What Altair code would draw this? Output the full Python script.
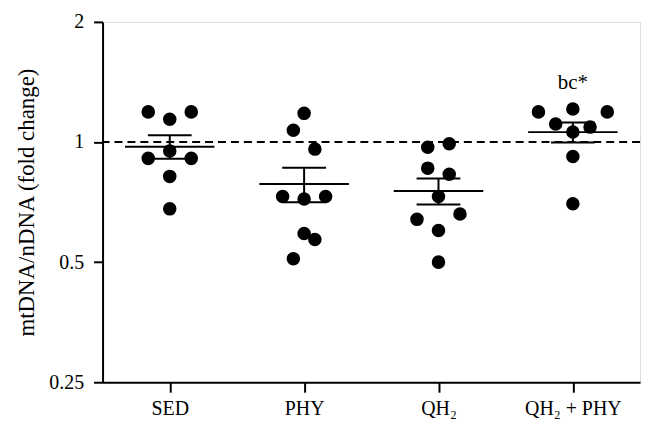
import altair as alt
import pandas as pd

groups = ["SED", "PHY", "QH₂", "QH₂ + PHY"]

sed_values = [1.19, 1.14, 1.19, 0.95, 0.91, 0.91, 0.82, 0.68]
sed_slots = [-1, 0, 1, 0, -1, 1, 0, 0]
phy_values = [1.18, 1.07, 0.96, 0.73, 0.72, 0.73, 0.59, 0.57, 0.51]
phy_slots = [0, -0.5, 0.5, -1, 0, 1, 0, 0.5, -0.5]
qh2_values = [0.97, 0.99, 0.86, 0.83, 0.73, 0.64, 0.66, 0.60, 0.50]
qh2_slots = [-0.5, 0.5, -0.5, 0.5, 0, -1, 1, 0, 0]
qp_values = [1.19, 1.21, 1.19, 1.11, 1.09, 1.06, 0.92, 0.70]
qp_slots = [-1.6, 0, 1.6, -0.8, 0.8, 0, 0, 0]

y_ticks = [0.25, 0.5, 1, 2]
reference_level = 1
annotation = "bc*"
annotation_group = 3
annotation_level = 1.36

rows = []
for gi, (vals, slots) in enumerate(
    [(sed_values, sed_slots), (phy_values, phy_slots),
     (qh2_values, qh2_slots), (qp_values, qp_slots)]
):
    for v, s in zip(vals, slots):
        rows.append({"group": groups[gi], "idx": gi + 0.5, "slot": s, "value": v})
df = pd.DataFrame(rows)

label_expr = " : ".join(
    [f"datum.value < {i + 1} ? '{g}'" for i, g in enumerate(groups[:-1])]
) + f" : '{groups[-1]}'"

xscale = alt.Scale(domain=[0, 4], nice=False, zero=False)
yscale = alt.Scale(type="log", base=2, domain=[0.25, 2], nice=False)

x_axis = alt.Axis(
    values=[0.5, 1.5, 2.5, 3.5], labelExpr=label_expr, title=None, grid=False,
    tickSize=10, tickWidth=2, domainWidth=2, domainColor="black", tickColor="black",
    labelFont="Liberation Serif", labelFontSize=20, labelColor="black", labelPadding=6,
)
y_axis = alt.Axis(
    values=y_ticks, format=".2~f", title="mtDNA/nDNA (fold change)", grid=False,
    tickSize=9, tickWidth=2, domainWidth=2, domainColor="black", tickColor="black",
    labelFont="Liberation Serif", labelFontSize=20, labelColor="black", labelPadding=10,
    titleFont="Liberation Serif", titleFontSize=23, titleFontWeight="normal",
    titleColor="black", titlePadding=10,
)

base = alt.Chart(df)

points = base.transform_calculate(xpos="datum.idx + datum.slot * 0.16").mark_circle(
    size=185, color="black", opacity=1
).encode(
    x=alt.X("xpos:Q", scale=xscale, axis=x_axis),
    y=alt.Y("value:Q", scale=yscale, axis=y_axis),
)

summary = base.transform_aggregate(
    mean="mean(value)", sem="stderr(value)", groupby=["group", "idx"]
).transform_calculate(
    lo="datum.mean - datum.sem", hi="datum.mean + datum.sem",
    mx1="datum.idx - 0.333", mx2="datum.idx + 0.333",
    cx1="datum.idx - 0.163", cx2="datum.idx + 0.163",
)

mean_line = summary.mark_rule(color="black", strokeWidth=2).encode(
    x=alt.X("mx1:Q", scale=xscale), x2="mx2:Q", y=alt.Y("mean:Q", scale=yscale)
)
upper_cap = summary.mark_rule(color="black", strokeWidth=2).encode(
    x=alt.X("cx1:Q", scale=xscale), x2="cx2:Q", y=alt.Y("hi:Q", scale=yscale)
)
lower_cap = summary.mark_rule(color="black", strokeWidth=2).encode(
    x=alt.X("cx1:Q", scale=xscale), x2="cx2:Q", y=alt.Y("lo:Q", scale=yscale)
)
stem = summary.mark_rule(color="black", strokeWidth=2).encode(
    x=alt.X("idx:Q", scale=xscale), y=alt.Y("lo:Q", scale=yscale), y2="hi:Q"
)

ref = alt.Chart(pd.DataFrame({"y": [reference_level]})).mark_rule(
    color="black", strokeWidth=2, strokeDash=[8, 5]
).encode(y=alt.Y("y:Q", scale=yscale))

ann = alt.Chart(pd.DataFrame({
    "x": [annotation_group + 0.5], "y": [annotation_level], "t": [annotation]
})).mark_text(
    font="Liberation Serif", fontSize=21, color="black", baseline="alphabetic", align="center"
).encode(x=alt.X("x:Q", scale=xscale), y=alt.Y("y:Q", scale=yscale), text="t:N")

chart = alt.layer(ref, points, mean_line, upper_cap, lower_cap, stem, ann).properties(
    width=540, height=362,
    autosize=alt.AutoSizeParams(type="none"),
    padding={"left": 95, "top": 13, "right": 10, "bottom": 45},
).configure_view(stroke=None).configure(background="white")

chart.save("out.html", embed_options={"renderer": "svg", "actions": False})
